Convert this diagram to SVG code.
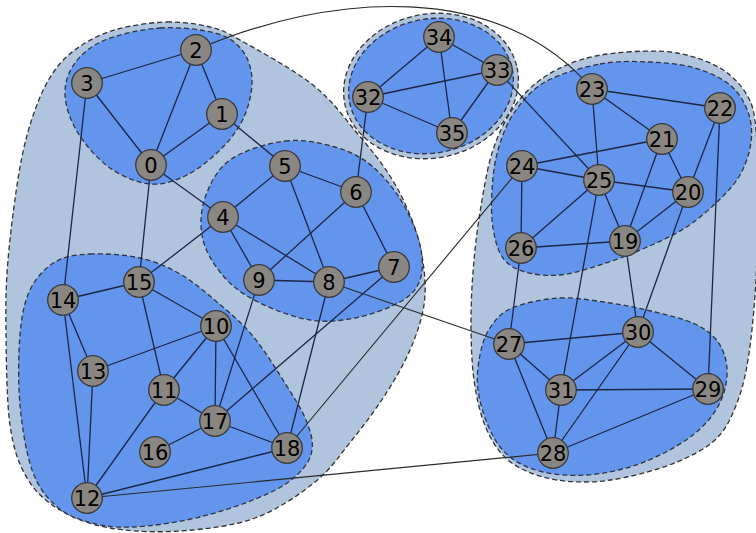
<svg xmlns="http://www.w3.org/2000/svg" width="756" height="533" viewBox="0 0 756 533">
<style>
.outer{fill:#b0c4de;stroke:#333;stroke-width:1.3;stroke-dasharray:5,3}
.inner{fill:#6495ed;stroke:#2e3440;stroke-width:1.3;stroke-dasharray:5,3}
.e{stroke:#1c2644;stroke-width:1.3;fill:none}
.l{stroke:#2a2a2a;stroke-width:1.1;fill:none}
.n circle{fill:#8a8782;stroke:#3a3a3a;stroke-width:1.3}
.n text{font-family:"DejaVu Sans",sans-serif;font-size:21px;fill:#000;text-anchor:middle}
</style>
<rect width="756" height="533" fill="#fff"/>
<g id="hulls">
<path class="outer" d="M167,22 C182.3,21.7 197.8,24 210,27 S222.8,30.3 240,40 S293.5,69.5 313,85 S344.2,117.8 357,133 S380.8,161.5 390,176 S406.5,205.7 412,220 S421,247.8 423,262 S426.2,290.3 424,305 S416.5,335 410,350 S394.7,380 385,395 S363.7,425.5 352,440 S331.2,469 315,482 S277.5,509.8 255,518 S204.2,529.3 180,531 S130,531.5 110,528 S73.8,518.3 60,510 S35.3,492.2 27,478 S13.5,449.7 10,425 S6.3,357.5 6,330 S5.7,287.2 8,260 S15.5,192 20,167 S29.2,126.2 35,110 S47.2,80.8 55,70 S71.5,51.8 82,45 S103.8,32.8 118,29 S151.7,22.3 167,22 Z"/>
<path class="outer" d="M627,52 C643.2,50.8 661.5,50.3 677,53 S708.3,61 720,68 S741,84.7 747,95 S754.3,112.5 756,130 S757,175 757,200 S757.5,253.3 756,280 S751.5,338.7 748,360 S740.5,394.7 735,408 S724.7,431 715,440 S691.7,455.8 677,462 S642.3,473.7 627,477 S599,482 585,482 S555.8,480.7 543,477 S517.5,468.2 508,460 S491.7,441.3 486,428 S476.5,398 474,380 S471,340 471,320 S472.2,280 474,260 S478.8,218.3 482,200 S488,165 493,150 S504.2,121.7 512,110 S528.7,88.3 540,80 S565.5,64.7 580,60 S610.8,53.2 627,52 Z"/>
<ellipse class="outer" cx="431" cy="86" rx="88" ry="72" transform="rotate(-12 431 86)"/>
<path class="inner" d="M160,28 C178.3,26.8 201.3,29.3 215,33 S235.8,42.2 242,50 S251.7,68.8 252,80 S249,105.7 244,117 S231.5,138.3 222,148 S199,169 187,175 S162.8,185.2 150,184 S122,176.5 110,168 S85.5,145.2 78,133 S65.5,106.7 65,95 S68.3,72.2 75,63 S90.8,45.8 105,40 S141.7,29.2 160,28 Z"/>
<path class="inner" d="M285,141 C302.5,138.8 320.5,142.8 335,147 S360.8,156.8 372,166 S394,188.8 402,202 S417,232 420,245 S423.3,270.5 420,280 S410.8,295.7 400,302 S370,315 355,318 S325.8,322.5 310,320 S274.2,310 260,303 S234.5,288.5 225,278 S206.3,253.3 203,240 S200.5,211.3 205,198 S216.7,169.5 230,160 S267.5,143.2 285,141 Z"/>
<path class="inner" d="M90,254 C104.2,253.3 125,254.7 140,258 S167.2,266.7 180,274 S205,291.8 217,302 S241,322 252,335 S274,365.8 283,380 S301.2,408.3 306,420 S313.3,441 312,450 S305.8,466.5 298,474 S281.3,487.8 265,495 S222,511.7 200,517 S151.7,526.2 133,527 S101,525.7 88,522 S64.3,513.7 55,505 S37.8,486.7 32,470 S22,427.5 20,405 S18.3,354.2 20,335 S24.2,302.2 30,290 S45,268 55,262 S75.8,254.7 90,254 Z"/>
<ellipse class="inner" cx="431" cy="86" rx="83" ry="67" transform="rotate(-12 431 86)"/>
<path class="inner" d="M600,64 C617.5,60.7 634.2,61.3 650,62 S681.7,64.2 695,68 S721.2,77.7 730,85 S744.5,102.5 748,112 S752.3,131.5 751,142 S745.7,165 740,175 S726.2,193.2 717,202 S697,220.3 685,228 S658.7,242 645,248 S617.2,259.5 603,264 S573,273.7 560,275 S534.5,274.8 525,272 S508.3,265.3 503,258 S494.8,239.3 493,228 S491.2,203 492,190 S494.3,162.8 498,150 S506.2,124.3 514,113 S530.7,90.2 545,82 S582.5,67.3 600,64 Z"/>
<path class="inner" d="M560,298 C576.3,297.2 594.2,300.7 610,303 S640.8,308.5 655,312 S684.5,319 695,324 S712.7,334.7 718,342 S726.3,358.7 727,368 S725.7,388.7 722,398 S712.8,415.8 705,424 S687,440 675,447 S647.7,461.3 633,466 S602,474 587,475 S555.8,475 543,472 S518.8,464 510,457 S495.3,441.2 490,430 S479.7,402.5 478,390 S478,365.3 480,355 S484.7,335.8 490,328 S500.3,313 512,308 S543.7,298.8 560,298 Z"/>
</g>
<g id="edges">
<path class="l" d="M196,50 C330,-8 500,-20 592,89"/>
<line class="l" x1="329" y1="282" x2="509" y2="344"/>
<line class="l" x1="522" y1="166" x2="287" y2="448"/>
<line class="l" x1="87" y1="498" x2="553" y2="453"/>
<line class="e" x1="87" y1="83" x2="196" y2="50"/>
<line class="e" x1="196" y1="50" x2="222" y2="114"/>
<line class="e" x1="196" y1="50" x2="151" y2="165"/>
<line class="e" x1="87" y1="83" x2="151" y2="165"/>
<line class="e" x1="222" y1="114" x2="151" y2="165"/>
<line class="e" x1="87" y1="83" x2="63" y2="300"/>
<line class="e" x1="151" y1="165" x2="139" y2="282"/>
<line class="e" x1="151" y1="165" x2="223" y2="217"/>
<line class="e" x1="222" y1="114" x2="285" y2="166"/>
<line class="e" x1="285" y1="166" x2="223" y2="217"/>
<line class="e" x1="285" y1="166" x2="356" y2="192"/>
<line class="e" x1="285" y1="166" x2="329" y2="282"/>
<line class="e" x1="223" y1="217" x2="259" y2="280"/>
<line class="e" x1="223" y1="217" x2="329" y2="282"/>
<line class="e" x1="356" y1="192" x2="259" y2="280"/>
<line class="e" x1="356" y1="192" x2="394" y2="267"/>
<line class="e" x1="259" y1="280" x2="329" y2="282"/>
<line class="e" x1="329" y1="282" x2="394" y2="267"/>
<line class="e" x1="356" y1="192" x2="368" y2="97"/>
<line class="e" x1="223" y1="217" x2="139" y2="282"/>
<line class="e" x1="259" y1="280" x2="215" y2="421"/>
<line class="e" x1="329" y1="282" x2="287" y2="448"/>
<line class="e" x1="394" y1="267" x2="215" y2="421"/>
<line class="e" x1="63" y1="300" x2="139" y2="282"/>
<line class="e" x1="63" y1="300" x2="93" y2="371"/>
<line class="e" x1="63" y1="300" x2="87" y2="498"/>
<line class="e" x1="139" y1="282" x2="216" y2="326"/>
<line class="e" x1="139" y1="282" x2="164" y2="390"/>
<line class="e" x1="93" y1="371" x2="216" y2="326"/>
<line class="e" x1="93" y1="371" x2="87" y2="498"/>
<line class="e" x1="216" y1="326" x2="164" y2="390"/>
<line class="e" x1="216" y1="326" x2="215" y2="421"/>
<line class="e" x1="216" y1="326" x2="287" y2="448"/>
<line class="e" x1="164" y1="390" x2="215" y2="421"/>
<line class="e" x1="164" y1="390" x2="87" y2="498"/>
<line class="e" x1="155" y1="452" x2="215" y2="421"/>
<line class="e" x1="215" y1="421" x2="287" y2="448"/>
<line class="e" x1="87" y1="498" x2="287" y2="448"/>
<line class="e" x1="439" y1="37" x2="368" y2="97"/>
<line class="e" x1="439" y1="37" x2="497" y2="70"/>
<line class="e" x1="439" y1="37" x2="452" y2="133"/>
<line class="e" x1="368" y1="97" x2="497" y2="70"/>
<line class="e" x1="368" y1="97" x2="452" y2="133"/>
<line class="e" x1="497" y1="70" x2="452" y2="133"/>
<line class="e" x1="497" y1="70" x2="599" y2="180"/>
<line class="e" x1="592" y1="89" x2="720" y2="108"/>
<line class="e" x1="592" y1="89" x2="662" y2="139"/>
<line class="e" x1="592" y1="89" x2="599" y2="180"/>
<line class="e" x1="522" y1="166" x2="662" y2="139"/>
<line class="e" x1="522" y1="166" x2="599" y2="180"/>
<line class="e" x1="522" y1="166" x2="521" y2="248"/>
<line class="e" x1="599" y1="180" x2="688" y2="192"/>
<line class="e" x1="662" y1="139" x2="688" y2="192"/>
<line class="e" x1="662" y1="139" x2="625" y2="241"/>
<line class="e" x1="720" y1="108" x2="688" y2="192"/>
<line class="e" x1="599" y1="180" x2="521" y2="248"/>
<line class="e" x1="599" y1="180" x2="625" y2="241"/>
<line class="e" x1="688" y1="192" x2="625" y2="241"/>
<line class="e" x1="521" y1="248" x2="625" y2="241"/>
<line class="e" x1="720" y1="108" x2="708" y2="389"/>
<line class="e" x1="521" y1="248" x2="509" y2="344"/>
<line class="e" x1="599" y1="180" x2="561" y2="390"/>
<line class="e" x1="625" y1="241" x2="638" y2="332"/>
<line class="e" x1="688" y1="192" x2="638" y2="332"/>
<line class="e" x1="509" y1="344" x2="638" y2="332"/>
<line class="e" x1="509" y1="344" x2="561" y2="390"/>
<line class="e" x1="509" y1="344" x2="553" y2="453"/>
<line class="e" x1="638" y1="332" x2="561" y2="390"/>
<line class="e" x1="638" y1="332" x2="708" y2="389"/>
<line class="e" x1="638" y1="332" x2="553" y2="453"/>
<line class="e" x1="561" y1="390" x2="708" y2="389"/>
<line class="e" x1="561" y1="390" x2="553" y2="453"/>
<line class="e" x1="708" y1="389" x2="553" y2="453"/>
</g>
<g id="nodes">
<g id="node-0" class="n"><circle cx="151" cy="165" r="15.3"/><text x="151" y="172.5">0</text></g>
<g id="node-1" class="n"><circle cx="222" cy="114" r="15.3"/><text x="222" y="121.5">1</text></g>
<g id="node-2" class="n"><circle cx="196" cy="50" r="15.3"/><text x="196" y="57.5">2</text></g>
<g id="node-3" class="n"><circle cx="87" cy="83" r="15.3"/><text x="87" y="90.5">3</text></g>
<g id="node-4" class="n"><circle cx="223" cy="217" r="15.3"/><text x="223" y="224.5">4</text></g>
<g id="node-5" class="n"><circle cx="285" cy="166" r="15.3"/><text x="285" y="173.5">5</text></g>
<g id="node-6" class="n"><circle cx="356" cy="192" r="15.3"/><text x="356" y="199.5">6</text></g>
<g id="node-7" class="n"><circle cx="394" cy="267" r="15.3"/><text x="394" y="274.5">7</text></g>
<g id="node-8" class="n"><circle cx="329" cy="282" r="15.3"/><text x="329" y="289.5">8</text></g>
<g id="node-9" class="n"><circle cx="259" cy="280" r="15.3"/><text x="259" y="287.5">9</text></g>
<g id="node-10" class="n"><circle cx="216" cy="326" r="15.3"/><text x="216" y="333.5">10</text></g>
<g id="node-11" class="n"><circle cx="164" cy="390" r="15.3"/><text x="164" y="397.5">11</text></g>
<g id="node-12" class="n"><circle cx="87" cy="498" r="15.3"/><text x="87" y="505.5">12</text></g>
<g id="node-13" class="n"><circle cx="93" cy="371" r="15.3"/><text x="93" y="378.5">13</text></g>
<g id="node-14" class="n"><circle cx="63" cy="300" r="15.3"/><text x="63" y="307.5">14</text></g>
<g id="node-15" class="n"><circle cx="139" cy="282" r="15.3"/><text x="139" y="289.5">15</text></g>
<g id="node-16" class="n"><circle cx="155" cy="452" r="15.3"/><text x="155" y="459.5">16</text></g>
<g id="node-17" class="n"><circle cx="215" cy="421" r="15.3"/><text x="215" y="428.5">17</text></g>
<g id="node-18" class="n"><circle cx="287" cy="448" r="15.3"/><text x="287" y="455.5">18</text></g>
<g id="node-19" class="n"><circle cx="625" cy="241" r="15.3"/><text x="625" y="248.5">19</text></g>
<g id="node-20" class="n"><circle cx="688" cy="192" r="15.3"/><text x="688" y="199.5">20</text></g>
<g id="node-21" class="n"><circle cx="662" cy="139" r="15.3"/><text x="662" y="146.5">21</text></g>
<g id="node-22" class="n"><circle cx="720" cy="108" r="15.3"/><text x="720" y="115.5">22</text></g>
<g id="node-23" class="n"><circle cx="592" cy="89" r="15.3"/><text x="592" y="96.5">23</text></g>
<g id="node-24" class="n"><circle cx="522" cy="166" r="15.3"/><text x="522" y="173.5">24</text></g>
<g id="node-25" class="n"><circle cx="599" cy="180" r="15.3"/><text x="599" y="187.5">25</text></g>
<g id="node-26" class="n"><circle cx="521" cy="248" r="15.3"/><text x="521" y="255.5">26</text></g>
<g id="node-27" class="n"><circle cx="509" cy="344" r="15.3"/><text x="509" y="351.5">27</text></g>
<g id="node-28" class="n"><circle cx="553" cy="453" r="15.3"/><text x="553" y="460.5">28</text></g>
<g id="node-29" class="n"><circle cx="708" cy="389" r="15.3"/><text x="708" y="396.5">29</text></g>
<g id="node-30" class="n"><circle cx="638" cy="332" r="15.3"/><text x="638" y="339.5">30</text></g>
<g id="node-31" class="n"><circle cx="561" cy="390" r="15.3"/><text x="561" y="397.5">31</text></g>
<g id="node-32" class="n"><circle cx="368" cy="97" r="15.3"/><text x="368" y="104.5">32</text></g>
<g id="node-33" class="n"><circle cx="497" cy="70" r="15.3"/><text x="497" y="77.5">33</text></g>
<g id="node-34" class="n"><circle cx="439" cy="37" r="15.3"/><text x="439" y="44.5">34</text></g>
<g id="node-35" class="n"><circle cx="452" cy="133" r="15.3"/><text x="452" y="140.5">35</text></g>
</g>
</svg>
